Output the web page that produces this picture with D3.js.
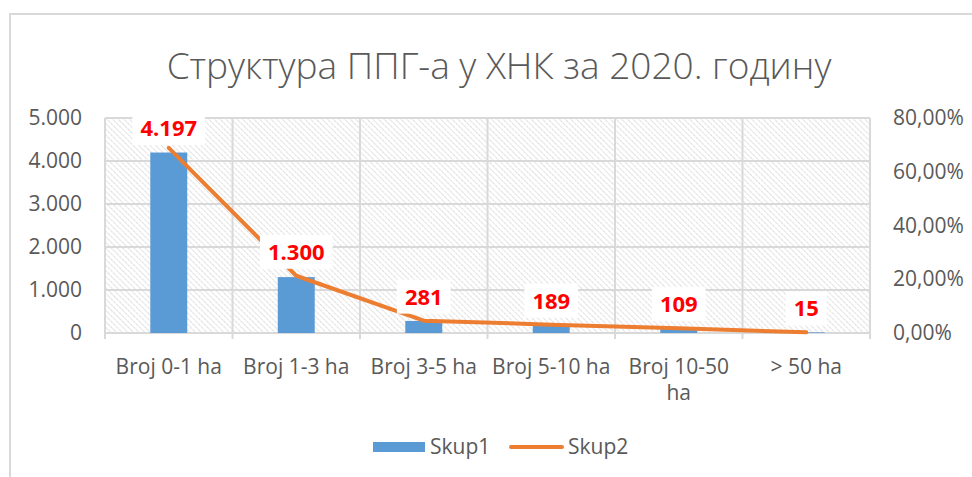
<!DOCTYPE html>
<html>
<head>
<meta charset="utf-8">
<script src="https://cdn.jsdelivr.net/npm/d3@7"></script>
<style>
  body { margin: 0; background: #fff; }
  svg { display: block; font-family: "Open Sans", "Noto Sans", sans-serif; }
</style>
</head>
<body>
<div id="chart"></div>
<script>
// chart data
const categories = ['Broj 0-1 ha', 'Broj 1-3 ha', 'Broj 3-5 ha', 'Broj 5-10 ha', 'Broj 10-50 ha', '> 50 ha'];
const skup1 = [4197, 1300, 281, 189, 109, 15];
const skup2 = [0.689, 0.213, 0.046, 0.031, 0.018, 0.0025];
const leftTicks = [0, 1000, 2000, 3000, 4000, 5000];
const rightTicks = [0, 0.2, 0.4, 0.6, 0.8];
const title = 'Структура ППГ-а у ХНК за 2020. годину';

const W = 972, H = 477;
const margin = { top: 118, right: 102, bottom: 144, left: 105 };
const width = W - margin.left - margin.right;
const height = H - margin.top - margin.bottom;

const blue = '#5B9BD5', orange = '#ED7D31', grid = '#d9d9d9', textGrey = '#595959';
const font = '"Open Sans", sans-serif';

const fmtInt = d3.formatLocale({ decimal: ',', thousands: '.', grouping: [3] }).format(',d');
const fmtPct = v => d3.format('.2f')(v * 100).replace('.', ',') + '%';

const svg = d3.select('#chart').append('svg').attr('width', W).attr('height', H);

// outer frame
svg.append('path')
  .attr('d', `M10,${H} V14 H${W}`)
  .attr('fill', 'none').attr('stroke', grid).attr('stroke-width', 2);

// hatch pattern for the plot area
const defs = svg.append('defs');
defs.append('pattern')
  .attr('id', 'hatch')
  .attr('patternUnits', 'userSpaceOnUse')
  .attr('width', 4).attr('height', 4)
  .attr('patternTransform', 'rotate(-45)')
  .append('line')
  .attr('x1', 0).attr('y1', 0).attr('x2', 0).attr('y2', 4)
  .attr('stroke', '#d0d0d0').attr('stroke-width', 1.4)
  .attr('stroke-dasharray', '2.4,0.8');

svg.append('text')
  .attr('x', 499).attr('y', 79)
  .attr('text-anchor', 'middle')
  .attr('font-size', 37).attr('font-weight', 300)
  .attr('fill', textGrey)
  .text(title);

const g = svg.append('g').attr('transform', `translate(${margin.left},${margin.top})`);

const x = d3.scaleBand().domain(categories).range([0, width]).paddingInner(0).paddingOuter(0);
const y = d3.scaleLinear().domain([0, 5000]).range([height, 0]);
const y2 = d3.scaleLinear().domain([0, 0.8]).range([height, 0]);

g.append('rect').attr('width', width).attr('height', height).attr('fill', 'url(#hatch)');

// gridlines
g.append('g').selectAll('line').data(leftTicks).join('line')
  .attr('x1', 0).attr('x2', width)
  .attr('y1', d => y(d)).attr('y2', d => y(d))
  .attr('stroke', grid).attr('stroke-width', 2);

const bounds = categories.map(c => x(c)).concat([width]);
g.append('g').selectAll('line').data(bounds).join('line')
  .attr('x1', d => d).attr('x2', d => d)
  .attr('y1', 0).attr('y2', height + 6)
  .attr('stroke', grid).attr('stroke-width', 2);

// left axis
const yAxis = g.append('g').call(d3.axisLeft(y).tickValues(leftTicks).tickFormat(fmtInt).tickSize(0).tickPadding(23));
yAxis.select('.domain').remove();
yAxis.selectAll('text').attr('font-size', 21).attr('fill', textGrey).attr('font-family', font);

// right axis
const y2Axis = g.append('g').attr('transform', `translate(${width},0)`)
  .call(d3.axisRight(y2).tickValues(rightTicks).tickFormat(fmtPct).tickSize(0).tickPadding(23));
y2Axis.select('.domain').remove();
y2Axis.selectAll('text').attr('font-size', 21).attr('fill', textGrey).attr('font-family', font);

// bottom axis, labels wrapped inside their band
const xAxis = g.append('g').attr('transform', `translate(0,${height})`)
  .call(d3.axisBottom(x).tickSize(0).tickPadding(26));
xAxis.select('.domain').remove();
xAxis.selectAll('text')
  .attr('font-size', 21).attr('fill', textGrey).attr('font-family', font)
  .each(function (d) {
    const t = d3.select(this);
    const words = d.split(' ');
    t.text(null);
    let line = [];
    let tspan = t.append('tspan').attr('x', 0);
    words.forEach(w => {
      line.push(w);
      tspan.text(line.join(' '));
      if (tspan.node().getComputedTextLength() > x.bandwidth() - 4 && line.length > 1) {
        line.pop();
        tspan.text(line.join(' '));
        line = [w];
        tspan = t.append('tspan').attr('x', 0).attr('dy', '1.25em').text(w);
      }
    });
  });

// bars
const barW = x.bandwidth() * 0.29;
g.append('g').selectAll('rect').data(skup1).join('rect')
  .attr('x', (d, i) => x(categories[i]) + x.bandwidth() / 2 - barW / 2)
  .attr('y', d => y(d))
  .attr('width', barW)
  .attr('height', d => height - y(d))
  .attr('fill', blue);

// line
const pts = skup2.map((v, i) => [x(categories[i]) + x.bandwidth() / 2, y2(v)]);
g.append('path')
  .attr('d', d3.line()(pts))
  .attr('fill', 'none').attr('stroke', orange).attr('stroke-width', 4)
  .attr('stroke-linejoin', 'round').attr('stroke-linecap', 'round');

// data labels with white boxes sized to the text
const labels = g.append('g').selectAll('g').data(skup1).join('g')
  .attr('transform', (d, i) => `translate(${pts[i][0]},${Math.max(pts[i][1] - 24, 10)})`);
const boxes = labels.append('rect').attr('fill', '#fff');
labels.append('text')
  .attr('text-anchor', 'middle').attr('dy', '0.36em')
  .attr('font-size', 22).attr('font-weight', 700).attr('fill', '#ff0000')
  .attr('font-family', font)
  .text(d => fmtInt(d));
labels.each(function () {
  const tw = d3.select(this).select('text').node().getComputedTextLength();
  d3.select(this).select('rect')
    .attr('x', -tw / 2 - 8).attr('y', -17)
    .attr('width', tw + 16).attr('height', 34);
});

// legend
const legend = svg.append('g').attr('transform', 'translate(0,447)');
legend.append('rect').attr('x', 373).attr('y', -5).attr('width', 52).attr('height', 10).attr('fill', blue);
legend.append('text').attr('x', 430).attr('dy', '0.35em').attr('font-size', 21).attr('fill', textGrey).text('Skup1');
legend.append('line').attr('x1', 511).attr('x2', 562).attr('stroke', orange).attr('stroke-width', 4).attr('stroke-linecap', 'round');
legend.append('text').attr('x', 568).attr('dy', '0.35em').attr('font-size', 21).attr('fill', textGrey).text('Skup2');
</script>
</body>
</html>
